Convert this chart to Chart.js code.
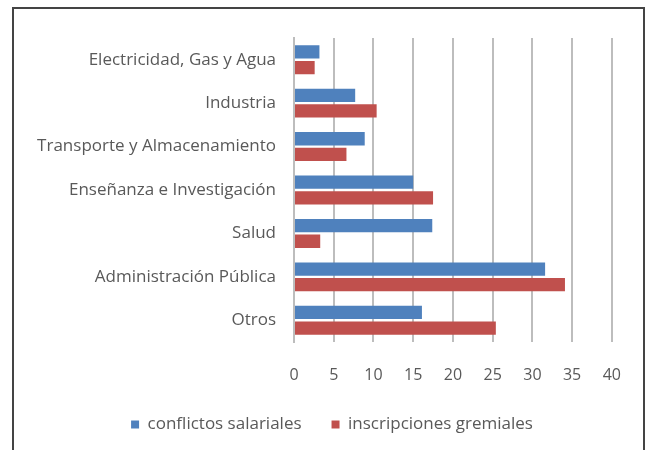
<!DOCTYPE html>
<html>
<head>
<meta charset="utf-8">
<script src="https://cdn.jsdelivr.net/npm/chart.js@4"></script>
<style>
  html, body { margin: 0; padding: 0; background: #fff; }
  #wrap { position: relative; width: 645px; height: 450px; }
  #frame {
    position: absolute; left: 12px; top: 7px; width: 629px; height: 445px;
    border: 2px solid #444; border-bottom: none; pointer-events: none;
  }
</style>
</head>
<body>
<div id="wrap">
  <canvas id="chart" width="645" height="450"></canvas>
  <div id="frame"></div>
</div>
<script>
// chart data
const categories = [
  'Electricidad, Gas y Agua',
  'Industria',
  'Transporte y Almacenamiento',
  'Enseñanza e Investigación',
  'Salud',
  'Administración Pública',
  'Otros'
];
const conflictos = [3.2, 7.7, 8.9, 15.0, 17.4, 31.6, 16.1];
const inscripciones = [2.6, 10.4, 6.6, 17.5, 3.3, 34.1, 25.4];
const seriesNames = ['conflictos salariales', 'inscripciones gremiales'];

const textColor = '#595959';
const gridColor = '#bdbdbd';
const fontFamily = '"Open Sans", sans-serif';

const data = {
  labels: categories,
  datasets: [
    {
      label: seriesNames[0],
      data: conflictos,
      backgroundColor: '#4F81BD',
      categoryPercentage: 0.72,
      barPercentage: 0.85
    },
    {
      label: seriesNames[1],
      data: inscripciones,
      backgroundColor: '#C0504D',
      categoryPercentage: 0.72,
      barPercentage: 0.85
    }
  ]
};

const config = {
  type: 'bar',
  data: data,
  options: {
    indexAxis: 'y',
    animation: false,
    responsive: false,
    layout: {
      padding: { top: 38, right: 0, bottom: 7, left: 19 }
    },
    scales: {
      x: {
        min: 0,
        max: 40,
        ticks: {
          stepSize: 5,
          color: textColor,
          padding: 24,
          font: { family: fontFamily, size: 16 }
        },
        grid: { color: gridColor, lineWidth: 2, drawTicks: false },
        border: { display: false },
        afterFit: (scale) => { scale.height = 44; }
      },
      y: {
        ticks: {
          color: textColor,
          padding: 18,
          font: { family: fontFamily, size: 17 }
        },
        grid: { display: false, drawTicks: false },
        border: { display: true, color: gridColor, width: 2 },
        afterFit: (scale) => { scale.width = 275; }
      },
      // empty spacer on the right so the legend stays centred like the original
      ySpacer: {
        axis: 'y',
        type: 'linear',
        position: 'right',
        ticks: { display: false },
        grid: { display: false, drawTicks: false },
        border: { display: false },
        afterFit: (scale) => { scale.width = 32; }
      }
    },
    plugins: {
      legend: {
        position: 'bottom',
        labels: {
          color: textColor,
          boxWidth: 8,
          boxHeight: 8,
          padding: 30,
          font: { family: fontFamily, size: 17 }
        }
      },
      tooltip: { enabled: false }
    }
  }
};

const barChart = new Chart(document.getElementById('chart'), config);
</script>
</body>
</html>
